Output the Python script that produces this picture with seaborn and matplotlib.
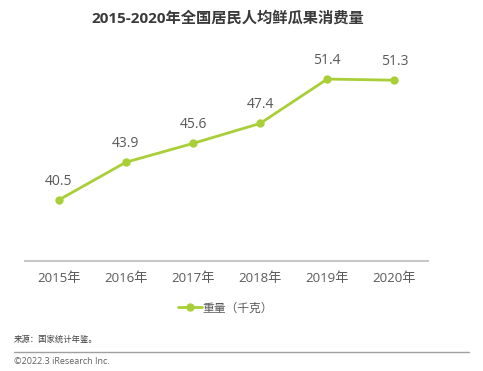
import matplotlib
matplotlib.use("Agg")
import matplotlib.pyplot as plt
import pandas as pd
import seaborn as sns

# data
years = ['2015年', '2016年', '2017年', '2018年', '2019年', '2020年']
weight = [40.5, 43.9, 45.6, 47.4, 51.4, 51.3]
series_name = '重量（千克）'

df = pd.DataFrame({'year': years, 'weight': weight})

sns.set_style("white")
plt.rcParams['font.family'] = ['Open Sans', 'Noto Sans CJK SC', 'DejaVu Sans']

green = '#A8CF38'
grey_txt = '#595959'

fig = plt.figure(figsize=(4.83, 3.71), dpi=100)
ax = fig.add_axes([0.052, 0.2965, 0.834, 0.598])

sns.lineplot(data=df, x='year', y='weight', ax=ax, color=green, lw=2,
             marker='o', markersize=6, markeredgewidth=0, label=series_name, sort=False)

ax.set_xlim(-0.5, len(years) - 0.5)
ax.set_ylim(35, 55)
ax.set_xlabel('')
ax.set_ylabel('')
ax.set_yticks([])
for s in ['top', 'left', 'right']:
    ax.spines[s].set_visible(False)
ax.spines['bottom'].set_color('#C8C8C8')
ax.spines['bottom'].set_linewidth(1.5)
ax.tick_params(axis='x', length=0, pad=8, labelsize=9.5, labelcolor=grey_txt)

for i, v in enumerate(weight):
    ax.annotate(f'{v}', (i, v), xytext=(0, 8), textcoords='offset points',
                ha='center', va='bottom', fontsize=10, color=grey_txt)

ax.get_legend().remove()
h, l = ax.get_legend_handles_labels()
fig.legend(h, l, loc='center', bbox_to_anchor=(0.467, 0.17), frameon=False,
           fontsize=8.5, labelcolor=grey_txt, handlelength=2.0, handletextpad=0.1)

fig.text(0.472, 0.952, '2015-2020年全国居民人均鲜瓜果消费量', ha='center', va='center',
         fontsize=11, fontweight='bold', color='#3A3A3A')
fig.text(0.029, 0.085, '来源：国家统计年鉴。', fontsize=6, color='#404040', va='center')
fig.add_artist(plt.Line2D([0.029, 0.97], [0.051, 0.051], color='#A0A0A0', lw=1))
fig.text(0.029, 0.025, '©2022.3 iResearch Inc.', fontsize=6.5, color='#606060', va='center')

fig.savefig('out.png', dpi=100)
